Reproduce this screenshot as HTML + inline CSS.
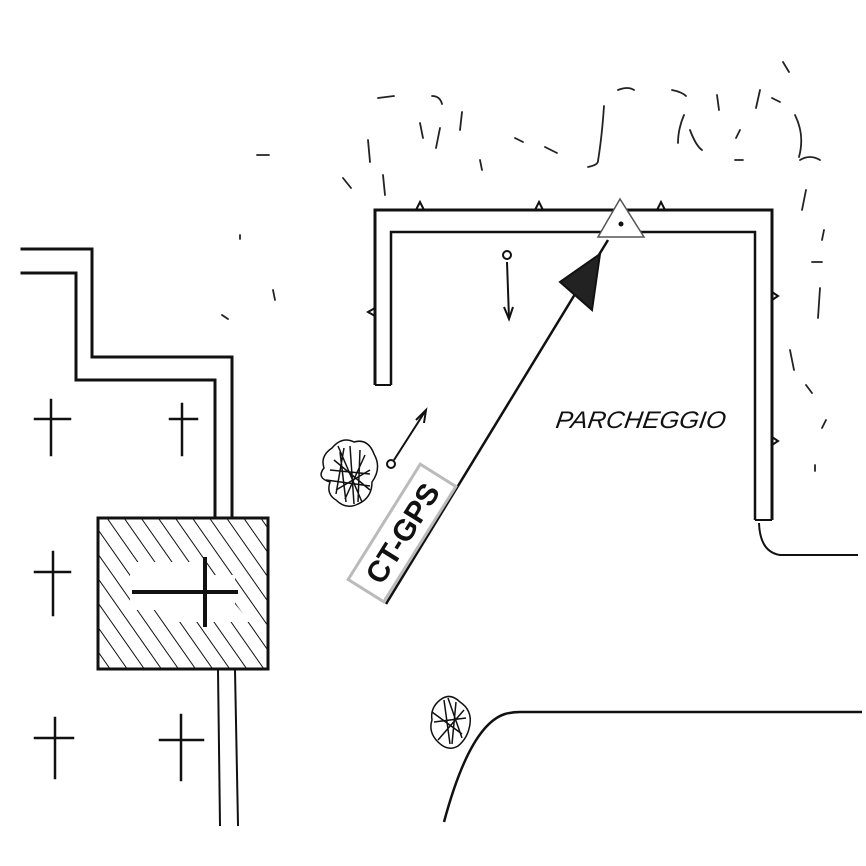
<!DOCTYPE html>
<html><head><meta charset="utf-8"><style>
html,body{margin:0;padding:0;background:#fff;}
svg{display:block;}
</style></head><body>
<svg width="866" height="866" viewBox="0 0 866 866" xmlns="http://www.w3.org/2000/svg">
<defs>
<pattern id="h" patternUnits="userSpaceOnUse" width="14" height="14" patternTransform="rotate(-35)">
<rect width="14" height="14" fill="#fff"/>
<line x1="0" y1="0" x2="0" y2="14" stroke="#111" stroke-width="2"/>
</pattern>
</defs>
<rect width="866" height="866" fill="#fff"/>
<g fill="none" stroke="#111" stroke-linecap="square">
<polyline points="22,249 92,249 92,357 232,357 232,517" stroke-width="3"/>
<polyline points="22,273 76,273 76,380 215,380 215,517" stroke-width="3"/>
<line x1="218" y1="670" x2="220" y2="825" stroke-width="2"/>
<line x1="235" y1="670" x2="238" y2="825" stroke-width="2"/>
<g stroke-width="2.5">
<line x1="51" y1="400" x2="51" y2="455"/><line x1="35" y1="419" x2="70" y2="419"/>
<line x1="182" y1="404" x2="182" y2="455"/><line x1="170" y1="419" x2="197" y2="419"/>
<line x1="53" y1="552" x2="53" y2="615"/><line x1="35" y1="572" x2="70" y2="572"/>
<line x1="55" y1="718" x2="55" y2="778"/><line x1="35" y1="738" x2="73" y2="738"/>
<line x1="181" y1="715" x2="181" y2="780"/><line x1="160" y1="740" x2="203" y2="740"/>
</g>
</g>
<rect x="98" y="518" width="170" height="151" fill="url(#h)" stroke="#111" stroke-width="3"/>
<polygon points="130,562 200,562 250,622 175,622" fill="#fff"/>
<rect x="130" y="575" width="105" height="35" fill="#fff"/>
<g stroke="#111" stroke-width="4">
<line x1="132" y1="592" x2="238" y2="592"/>
<line x1="205" y1="557" x2="205" y2="627"/>
</g>
<g fill="none" stroke="#111">
<polyline points="375,385 375,210 772,210 772,520" stroke-width="3"/>
<polyline points="391,385 391,232 755,232 755,520" stroke-width="2.5"/>
<line x1="375" y1="385" x2="391" y2="385" stroke-width="2"/>
<line x1="755" y1="520" x2="772" y2="520" stroke-width="2"/>
<path d="M759,523 Q760,552 780,555 L858,555" stroke-width="2"/>
<path d="M444,822 Q470,725 505,714 Q512,712 520,712 L862,712" stroke-width="2.5"/>
<path d="M416,210 l4,-8 l4,8 M535,210 l4,-8 l4,8 M657,210 l4,-8 l4,8 M375,308 l-7,4 l7,4 M772,292 l6,4 l-6,4 M772,437 l6,4 l-6,4" stroke-width="2"/>
<line x1="386" y1="604" x2="608" y2="240" stroke-width="2.5"/>
<line x1="507" y1="262" x2="509" y2="318" stroke-width="2"/>
<path d="M504,307 l5,12 l4,-12" stroke-width="2"/>
<circle cx="507" cy="255" r="4" stroke-width="2"/>
<line x1="394" y1="460" x2="426" y2="410" stroke-width="2"/>
<path d="M416,420 l10,-10 l-2,13" stroke-width="2"/>
<circle cx="391" cy="464" r="4" stroke-width="2"/>
</g>
<polygon points="560,282 600,254 592,310" fill="#222" stroke="#111" stroke-width="2"/>
<polygon points="620,199 598,237 644,237" fill="#fff" stroke="#555" stroke-width="1.5"/>
<circle cx="621" cy="224" r="2.5" fill="#111"/>
<g fill="none" stroke="#111" stroke-width="1.5">
<path d="M332,448 q10,-12 22,-6 q14,-4 20,12 q8,14 -2,28 q0,16 -14,22 q-12,6 -22,-4 q-10,-6 -6,-18 q-14,-4 -6,-14 q-4,-12 8,-20z"/>
<path d="M340,452 l6,50 M350,446 l4,58 M360,450 l-2,52 M330,470 l40,4 M336,490 l34,-20 M334,460 l36,30 M344,448 l-8,46 M365,455 l-20,44 M326,480 l44,6 M338,446 l24,56"/>
<path d="M440,700 q10,-8 20,2 q12,8 10,22 q-2,14 -12,22 q-10,6 -20,-4 q-10,-10 -6,-22 q-2,-12 8,-20z"/>
<path d="M444,700 l6,44 M456,702 l-4,42 M434,722 l32,-4 M438,740 l26,-30 M448,698 l14,40 M432,712 l30,22"/>
</g>
<g fill="none" stroke="#222" stroke-width="1.8" stroke-linecap="round">
<path d="M378,98 l16,-2 M432,96 q8,0 10,8 M462,112 l-2,18 M420,123 l3,15 M368,140 l2,22 M343,178 l8,10 M515,138 l8,4 M545,147 l12,6 M383,175 l2,20 M257,155 l12,0 M440,128 l-4,20 M604,106 q-2,30 -6,55 q0,4 -10,6 M618,90 q10,-4 16,0 M672,90 q10,2 14,6 M684,115 q-6,14 -6,28 M690,130 q6,16 12,20 M717,95 l2,15 M760,90 l-4,18 M772,98 l8,4 M795,115 q10,20 4,42 M800,160 q10,-6 20,0 M806,190 l-4,20 M824,230 l-2,10 M812,262 l10,0 M820,288 l-2,30 M790,350 l4,20 M806,385 l6,8 M826,420 l-4,8 M815,465 l0,6 M480,160 l2,10 M735,160 l8,0 M740,130 l-4,8 M240,235 l0,4 M273,290 l2,10 M222,315 l6,4 M783,62 l6,10 M585,270 l6,-8"/>
</g>
<text x="555" y="428" font-family="Liberation Sans, sans-serif" font-size="24" font-style="italic" fill="#111" textLength="170" lengthAdjust="spacingAndGlyphs" transform="skewX(-8) translate(60,0)">PARCHEGGIO</text>
<g transform="translate(402,533) rotate(-58)">
<rect x="-68" y="-21" width="136" height="42" fill="#fff" stroke="#bbb" stroke-width="3"/>
<text x="0" y="11" text-anchor="middle" font-family="Liberation Sans, sans-serif" font-weight="bold" font-size="30" fill="#111">CT-GPS</text>
</g>
</svg>
</body></html>
